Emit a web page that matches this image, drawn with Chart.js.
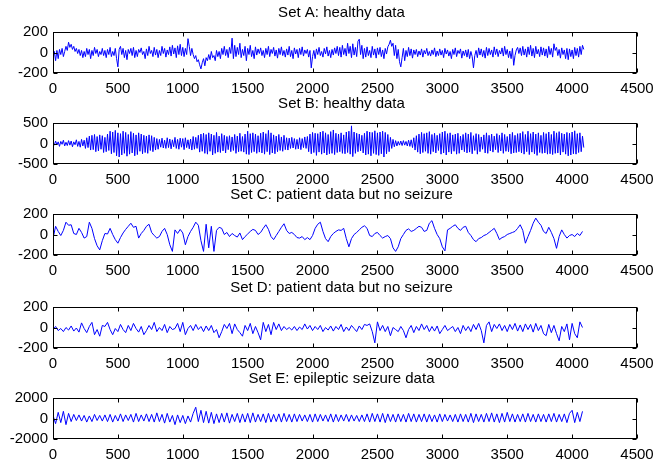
<!DOCTYPE html>
<html>
<head>
<meta charset="utf-8">
<script src="https://cdn.jsdelivr.net/npm/chart.js@4.4.0/dist/chart.umd.min.js"></script>
<style>
  body { margin: 0; background: #fff; width: 657px; height: 466px; overflow: hidden; position: relative; }
  .panel { position: absolute; left: 0; width: 680px; height: 95px; }
</style>
</head>
<body>
<div class="panel" style="top:4px"><canvas id="cA" width="680" height="95"></canvas></div>
<div class="panel" style="top:95px"><canvas id="cB" width="680" height="95"></canvas></div>
<div class="panel" style="top:186px"><canvas id="cC" width="680" height="95"></canvas></div>
<div class="panel" style="top:279px"><canvas id="cD" width="680" height="95"></canvas></div>
<div class="panel" style="top:370px"><canvas id="cE" width="680" height="95"></canvas></div>
<script>
// valores leídos a ojo de la figura; A y B cada 10 muestras, C, D y E cada 20
const steps = [10, 10, 20, 20, 20];
const xTicks = [0, 500, 1000, 1500, 2000, 2500, 3000, 3500, 4000, 4500];

const titles = [
  'Set A: healthy data',
  'Set B: healthy data',
  'Set C: patient data but no seizure',
  'Set D: patient data but no seizure',
  'Set E: epileptic seizure data'
];
const yLimits = [200, 500, 200, 200, 2000];

const setA = [
  -50, 10, -80, 20, -60, 30, -20, 40, -40, 10, 60, 20, 100, 50, 80, 30, 60, 10, 40, -10,
  30, -30, 20, -50, 10, -40, 40, -20, 30, -60, 20, -30, 50, -10, 30, -40, 10, -20, 40, -30,
  20, -50, 30, -20, 50, -40, 10, -30, 40, -60, -140, 30, 60, -20, 40, -50, 20, -70, 30, -10,
  40, -30, 50, -50, 20, -40, 30, 0, 45, -20, 10, -60, 35, -30, 60, -10, 20, -40, 50, -25,
  30, -50, 20, -30, 60, -10, 40, -45, 25, -20, 55, -35, 70, -15, 45, -50, 65, -20, 80, -30,
  50, -40, 40, -20, 135, 60, -30, 40, -20, -60, -30, -90, -70, -120, -160, -100, -60, -130, -50, -80,
  -20, -70, 10, -50, -30, -80, 20, -40, 10, -60, 40, -20, 60, -30, 30, -50, 50, -10, 140, -60,
  70, -40, 50, -20, 90, -50, 30, -30, 60, -80, 40, -20, 70, -40, 20, -60, 55, -25, 35, -10,
  45, -30, 20, -50, 40, -20, 60, -40, 30, -10, 50, -35, 25, -55, 40, -20, 55, -30, 20, -45,
  35, -25, 60, -40, 20, -60, 45, -15, 30, -50, 40, -20, 55, -35, 25, -10, 30, -45, 20, -150,
  -40, 20, -60, 35, -20, 50, -30, 10, -45, 40, -15, 55, -35, 20, -50, 30, -25, 45, -10, 60,
  -30, 50, -45, 70, -20, 40, -35, 90, -10, 60, -50, 85, -25, 50, -40, 110, 130, -20, 70, -60,
  40, -45, 55, -30, 20, -50, 60, -25, 35, -55, 45, -20, 50, -40, 25, -60, 40, -15, 55, 80,
  120, 60, 90, -30, 70, -60, 30, -90, -140, -50, 40, -80, 20, -40, 50, -30, 35, -55, 25, -20,
  30, -40, 15, -25, 35, -45, 20, -15, 40, -30, 10, -35, 25, -20, 45, -40, 15, -30, 35, -25,
  20, -50, 40, -15, 25, -35, 10, -60, 30, -20, 45, -40, 20, -10, 35, -55, 15, -30, 25, -45,
  30, -60, 10, -40, -150, -30, 20, -50, 45, -25, 35, -40, 20, -55, 50, -30, 40, -20, 25, -45,
  55, -20, 35, -40, 20, -15, 45, -35, 60, -20, 30, -50, 15, -60, 40, -125, -30, 25, 50, -10,
  45, -30, 60, -25, 35, -45, 55, -20, 70, -35, 40, -50, 60, -15, 30, -40, 55, -25, 45, -35,
  35, -50, 60, -20, 40, -45, 85, 20, 50, -30, 30, -55, 45, -20, 25, -60, 40, -70, 35, -40,
  25, -60, 50, -30, 40, -45, 60, -20, 70, 30
];

const setB = [
  20, -40, 60, -30, 40, -70, 50, -20, 80, -60, 30, -50, 70, -40, 60, -80, 40, -30, 90, -70,
  50, -90, 100, -60, 80, -120, 140, -100, 180, -160, 200, -150, 220, -200, 170, -180, 210, -140, 190, -220,
  150, -200, 230, -170, 300, -250, 280, -220, 320, -300, 260, -330, 240, -280, 300, -240, 270, -310, 220, -260,
  290, -230, 250, -300, 210, -270, 260, -190, 230, -250, 200, -220, 180, -240, 210, -170, 190, -200, 150, -160,
  120, -140, 100, -90, 130, -110, 80, -120, 140, -100, 110, -130, 90, -80, 150, -120, 100, -140, 130, -90,
  120, -150, 140, -100, 90, -130, 110, -160, 170, -140, 150, -120, 200, -210, 230, -190, 250, -240, 220, -260,
  260, -190, 230, -280, 200, -240, 270, -210, 180, -220, 240, -180, 200, -230, 170, -150, 190, -200, 160, -170,
  220, -240, 180, -200, 250, -190, 170, -210, 230, -260, 300, -270, 240, -220, 260, -200, 230, -240, 190, -210,
  250, -230, 280, -260, 240, -200, 320, -270, 260, -230, 210, -250, 180, -200, 220, -170, 160, -190, 200, -150,
  140, -160, 130, -120, 150, -110, 120, -140, 100, -130, 140, -150, 120, -100, 160, -120, 170, -200, 230, -250,
  270, -220, 250, -290, 240, -210, 280, -260, 300, -230, 260, -280, 220, -250, 290, -240, 330, -270, 250, -220,
  230, -200, 260, -240, 210, -250, 280, -220, 300, -260, 430, -320, 280, -240, 250, -200, 230, -180, 200, -230,
  250, -280, 300, -260, 280, -300, 270, -240, 310, -270, 260, -290, 280, -250, 300, -330, 270, -250, 220, -200,
  150, -120, 100, -80, 70, -60, 50, -40, 60, -50, 70, -40, 50, -60, 80, -70, 90, -100, 140, -160,
  190, -210, 230, -250, 270, -220, 240, -190, 260, -240, 290, -260, 220, -200, 250, -230, 200, -170, 240, -260,
  280, -230, 300, -280, 240, -210, 260, -250, 210, -190, 230, -260, 250, -240, 180, -160, 220, -200, 260, -230,
  230, -210, 270, -250, 190, -170, 240, -260, 220, -200, 160, -140, 210, -230, 260, -240, 200, -180, 230, -210,
  180, -150, 240, -220, 200, -180, 260, -240, 220, -190, 170, -200, 230, -250, 270, -230, 200, -220, 240, -200,
  250, -230, 290, -260, 220, -200, 300, -270, 240, -210, 280, -250, 230, -290, 260, -220, 200, -240, 270, -230,
  240, -260, 280, -250, 220, -270, 300, -240, 260, -230, 290, -280, 250, -210, 230, -260, 270, -300, 250, -280,
  280, -250, 310, -260, 240, -220, 260, -200, 180, -100
];

const setC = [
  -40, 80, 30, -10, 40, 120, 90, 95, 10, 0, 60, 20, -35, -20, 120, 60, -40, -110, -150, -60,
  10, 5, 60, 0, -50, -85, -30, 15, 50, 80, 110, 70, 80, -35, 10, 40, 80, 100, 20, -10,
  -35, -20, 30, 60, 0, -100, -165, 45, 10, 50, 15, -100, -20, 30, 70, 120, 90, -60, -165, 100,
  -130, 80, -165, 40, 70, 60, 0, 20, -20, 10, -10, -25, 15, -50, -20, 5, 30, 50, 40, 0,
  20, 60, 95, 50, -20, -50, -10, 30, 70, 105, 40, 10, 20, 0, -30, -35, -20, -50, -30, -50,
  -10, 60, 100, 120, 30, -40, -70, -20, 10, 30, 45, 40, 60, -40, -120, -40, 0, 20, 45, 70,
  85, 60, -10, -20, 10, 20, -10, -35, -20, -10, -40, -130, -165, -120, -40, 0, 40, 55, 30, 40,
  60, 80, 70, 30, 40, 110, 135, 60, 0, -40, -120, -160, 45, 60, 80, 95, 60, 40, 70, 80,
  20, -10, -50, -70, -40, -30, -10, 0, 20, 40, 60, 10, -50, -30, -20, 0, 10, 20, 30, 60,
  95, 40, -85, -20, 40, 110, 160, 120, 90, 30, 10, 70, 20, -40, -135, -20, 45, 0, -35, -10,
  0, -20, 10, -10, 30
];

const setD = [
  -20, 10, -30, -10, -40, 0, -25, 15, -35, -5, -45, 45, -10, -50, 10, 50, -70, -20, -85, 20,
  10, 50, -20, -70, -10, -40, 30, -20, -50, 20, -30, 40, -10, -45, 10, -70, -30, 20, -20, 50,
  -40, 0, -30, 30, -50, 10, -20, -10, 40, -40, 50, -70, -10, 20, -30, 30, -20, 10, -40, 15,
  -30, 20, -50, -20, -100, -40, 30, -10, 40, -60, 35, -20, -50, -85, 20, -30, 40, -60, 10, -50,
  -120, 50, -40, 30, -70, 50, -20, 35, -30, 10, -20, 0, -25, 10, -30, 5, -20, 35, -15, 20,
  -30, 10, -20, 20, -40, 0, -25, 15, -35, 10, -20, 30, -40, 5, -30, 20, -10, -40, 15, -20,
  30, 20, 35, -40, -150, 55, -30, 20, -40, 10, -80, 0, -20, -40, 10, -30, -100, -20, 20, -50,
  10, -30, 35, -20, 20, -40, 10, -35, 15, -60, -20, 20, -30, -10, 10, -40, 0, -60, 20, -30,
  10, -40, 30, -20, 40, -30, -150, 20, 55, -40, 30, -10, 35, -30, 20, -40, 30, -20, 40, -35,
  25, -40, 35, -20, 30, -45, 40, -30, 20, -60, -80, 30, -50, 20, -60, -130, 10, -40, 35, -120,
  40, -60, -100, 55, 0
];

const setE = [
  300, -500, 600, -400, 700, -600, 500, -300, 400, -200, 350, -250, 300, -350, 250, -300, 400, -200, 300, -250,
  350, -300, 400, -350, 300, -250, 450, -300, 350, -200, 400, -350, 500, -300, 350, -250, 450, -300, 400, -350,
  550, -300, 400, -450, 500, -350, 300, -600, 350, -400, 300, -500, 250, -350, 500, 1100, -300, 800, -400, 700,
  -450, 600, -500, 450, -400, 500, -350, 550, -450, 400, -300, 500, -400, 450, -350, 500, -400, 550, -350, 400,
  -300, 450, -400, 500, -350, 400, -300, 450, -350, 500, -300, 400, -350, 450, -300, 400, -250, 350, -300, 400,
  -350, 450, -300, 400, -250, 350, -300, 450, -350, 400, -300, 350, -250, 400, -300, 350, -250, 300, -300, 350,
  -300, 450, -350, 500, -300, 450, -350, 500, -400, 450, -300, 400, -350, 450, -300, 400, -350, 500, -300, 450,
  -350, 400, -300, 450, -350, 400, -300, 350, -350, 450, -300, 400, -250, 350, -300, 400, -350, 450, -300, 400,
  -350, 500, -400, 450, -300, 400, -350, 500, -300, 550, -350, 450, -400, 500, -350, 600, -300, 450, -350, 400,
  -300, 450, -350, 500, -300, 400, -350, 450, -300, 400, -350, 450, -300, 500, -350, 400, -300, 450, -400, 500,
  800, -400, 600, -300, 700
];

const allSets = [setA, setB, setC, setD, setE];
const canvasIds = ['cA', 'cB', 'cC', 'cD', 'cE'];

const FONT = { family: '"Liberation Sans", Arial, sans-serif', size: 15, weight: 'normal' };

// marco tipo matlab: caja completa con marcas hacia dentro
const boxFrame = {
  id: 'boxFrame',
  afterDraw(chart) {
    const { ctx, chartArea: a } = chart;
    const x = chart.scales.x, y = chart.scales.y;
    const L = Math.round(a.left) + 0.5, R = Math.round(a.right) - 0.5;
    const T = Math.round(a.top) + 0.5, B = Math.round(a.bottom) - 0.5;
    ctx.save();
    ctx.strokeStyle = '#000';
    ctx.lineWidth = 1;
    ctx.strokeRect(L, T, R - L, B - T);
    ctx.beginPath();
    x.ticks.forEach(t => {
      const px = Math.round(x.getPixelForValue(t.value)) + 0.5;
      ctx.moveTo(px, T); ctx.lineTo(px, T + 4);
      ctx.moveTo(px, B); ctx.lineTo(px, B - 4);
    });
    y.ticks.forEach(t => {
      const py = Math.round(y.getPixelForValue(t.value)) + 0.5;
      ctx.moveTo(L, py); ctx.lineTo(L + 4, py);
      ctx.moveTo(R, py); ctx.lineTo(R - 4, py);
    });
    ctx.stroke();
    ctx.restore();
  }
};

function makePanel(idx) {
  const values = allSets[idx];
  const lim = yLimits[idx];
  const step = steps[idx];
  const points = values.map((v, i) => ({ x: i * step, y: v }));
  const ctx = document.getElementById(canvasIds[idx]).getContext('2d');
  return new Chart(ctx, {
    type: 'line',
    data: { datasets: [{ data: points, borderColor: '#0000ff', borderWidth: 1, pointRadius: 0, tension: 0, fill: false }] },
    options: {
      responsive: false,
      animation: false,
      events: [],
      layout: { padding: { left: 3, right: 0, top: 0, bottom: 0 } },
      plugins: {
        legend: { display: false },
        tooltip: { enabled: false },
        title: { display: true, text: titles[idx], color: '#000', font: FONT, padding: { top: 0, bottom: 10 } }
      },
      scales: {
        x: {
          type: 'linear', min: 0, max: 4500,
          afterBuildTicks: s => { s.ticks = xTicks.map(v => ({ value: v })); },
          afterFit: s => { s.height = 26; },
          grid: { display: false, drawTicks: false },
          border: { display: false },
          ticks: { color: '#000', font: FONT, padding: 7, maxRotation: 0, autoSkip: false, callback: v => String(v) }
        },
        y: {
          min: -lim, max: lim,
          afterBuildTicks: s => { s.ticks = [-lim, 0, lim].map(v => ({ value: v })); },
          afterFit: s => { s.width = 50; },
          grid: { display: false, drawTicks: false },
          border: { display: false },
          ticks: { color: '#000', font: FONT, padding: 5, autoSkip: false, callback: v => String(v) }
        },
        // eje vacío a la derecha, solo para centrar el título como en matlab
        y2: {
          position: 'right', min: -1, max: 1,
          afterFit: s => { s.width = 43; },
          grid: { display: false, drawTicks: false },
          border: { display: false },
          ticks: { display: false }
        }
      }
    },
    plugins: [boxFrame]
  });
}

document.addEventListener('DOMContentLoaded', () => {
  for (let i = 0; i < allSets.length; i++) makePanel(i);
});
</script>
</body>
</html>
